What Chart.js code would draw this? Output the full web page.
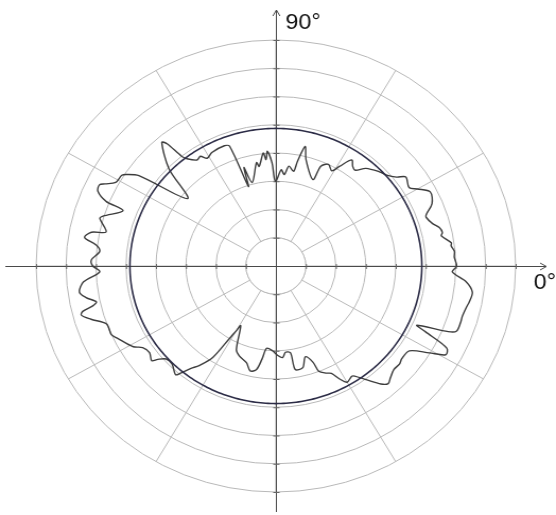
<!DOCTYPE html>
<html>
<head>
<meta charset="utf-8">
<script src="https://cdn.jsdelivr.net/npm/chart.js@4.4.0/dist/chart.umd.min.js"></script>
<style>
  html, body { margin: 0; padding: 0; background: #fff; overflow: hidden; }
  /* the source picture is stretched a little wider than tall */
  #polarChart { position: absolute; left: 0; top: 0; transform: scaleX(1.061); transform-origin: 0 0; }
</style>
</head>
<body>
<canvas id="polarChart" width="524" height="515"></canvas>
<script>
// measured curve: angle in degrees (0 = right, counter-clockwise), radius in ring units
const curveAngles = [
  0, 3, 5, 7, 8, 11, 12, 14, 16, 19, 20, 23, 27, 30, 32, 36, 38, 41, 44, 49,
  52, 54, 56, 59, 61, 64, 67, 68, 75, 77, 79, 80, 83, 85, 87, 90, 91, 92, 94, 95,
  96, 99, 100, 105, 107, 108, 110, 112, 118, 121, 123, 125, 128, 129, 130, 131, 136, 141, 145, 147,
  148, 151, 153, 154, 156, 158, 159, 163, 164, 168, 169, 171, 173, 175, 178, 180, 182, 185, 188, 190,
  192, 193, 194, 195, 197, 200, 204, 206, 211, 213, 216, 219, 220, 222, 225, 229, 230, 232, 234, 237,
  239, 240, 241, 246, 249, 254, 257, 260, 262, 264, 268, 271, 274, 276, 279, 280, 284, 287, 290, 291,
  294, 296, 298, 300, 303, 304, 307, 310, 312, 314, 317, 320, 322, 326, 329, 331, 333, 335, 336, 338,
  339, 342, 344, 347, 349, 352, 355, 358
];
const curveRadii = [
  6.03, 5.96, 5.98, 5.89, 5.91, 5.62, 5.68, 5.62, 5.44, 5.30, 5.34, 5.66, 5.78, 5.45, 5.24, 5.36, 5.11, 4.90, 4.80, 4.58,
  4.30, 4.36, 4.53, 4.11, 3.85, 4.00, 3.84, 3.30, 3.89, 4.34, 3.77, 3.40, 3.56, 3.25, 3.41, 3.00, 3.12, 3.65, 4.07, 3.78,
  4.02, 3.57, 3.72, 3.06, 3.65, 2.96, 4.51, 4.59, 4.55, 4.45, 4.63, 4.58, 4.82, 5.00, 5.65, 5.80, 4.96, 3.79, 5.58, 5.95,
  6.06, 6.11, 6.40, 6.55, 6.50, 6.11, 5.46, 6.03, 6.11, 5.79, 6.27, 6.46, 6.03, 5.90, 6.16, 6.11, 5.88, 6.44, 6.62, 6.43,
  6.12, 6.27, 6.64, 6.72, 6.45, 6.01, 6.00, 5.86, 5.55, 5.30, 5.21, 5.33, 5.14, 4.92, 4.90, 5.10, 4.95, 4.60, 4.36, 3.85,
  2.95, 2.66, 2.42, 3.24, 3.41, 3.56, 3.81, 3.72, 3.33, 2.93, 3.01, 3.16, 3.25, 3.07, 3.11, 3.72, 3.71, 3.36, 3.63, 3.99,
  4.15, 4.23, 4.53, 4.75, 4.65, 4.70, 5.05, 5.45, 5.60, 5.50, 5.38, 5.39, 5.33, 5.37, 5.97, 6.48, 6.40, 5.50, 5.15, 6.20,
  6.45, 6.48, 6.47, 6.52, 6.58, 6.62, 6.37, 5.89
];
const referenceRadius = 4.87;
const ringMax = 8;
const spokeStep = 30;
const axisLabels = ["0°", "90°"];

// radar labels run clockwise from the right, one per degree
const labels = [];
const curveData = [];
const referenceData = [];
for (let i = 0; i < 360; i++) {
  labels.push(i);
  curveData.push(null);
  referenceData.push(referenceRadius);
}
curveAngles.forEach((a, k) => {
  curveData[(360 - a) % 360] = curveRadii[k];
});

const axesPlugin = {
  id: "axes",
  beforeDatasetsDraw(chart) {
    const s = chart.scales.r;
    const ctx = chart.ctx;
    const cx = s.xCenter + 0.5, cy = s.yCenter + 0.5;
    const ring = s.getDistanceFromCenterForValue(1);
    ctx.save();
    // spokes start at the first ring
    ctx.fillStyle = "#fff";
    ctx.beginPath();
    ctx.arc(s.xCenter, s.yCenter, ring, 0, Math.PI * 2);
    ctx.fill();
    ctx.strokeStyle = "#b8b8b8";
    ctx.lineWidth = 1;
    ctx.beginPath();
    ctx.arc(s.xCenter, s.yCenter, ring, 0, Math.PI * 2);
    ctx.stroke();

    ctx.strokeStyle = "#4a4a4a";
    ctx.lineWidth = 1;
    ctx.beginPath();
    ctx.moveTo(5, cy);
    ctx.lineTo(515, cy);
    ctx.moveTo(cx, 10);
    ctx.lineTo(cx, 512);
    // arrow heads
    ctx.moveTo(509, cy - 3.5);
    ctx.lineTo(515, cy);
    ctx.lineTo(509, cy + 3.5);
    ctx.moveTo(cx - 3.3, 16);
    ctx.lineTo(cx, 10);
    ctx.lineTo(cx + 3.3, 16);
    ctx.stroke();

    // short dark marks where rings cross the axes
    ctx.strokeStyle = "#666";
    ctx.beginPath();
    for (let v = 1; v <= ringMax; v++) {
      const d = s.getDistanceFromCenterForValue(v);
      ctx.moveTo(cx + d, cy - 2.5); ctx.lineTo(cx + d, cy + 2.5);
      ctx.moveTo(cx - d, cy - 2.5); ctx.lineTo(cx - d, cy + 2.5);
      ctx.moveTo(cx - 3, cy - d); ctx.lineTo(cx + 3, cy - d);
      ctx.moveTo(cx - 3, cy + d); ctx.lineTo(cx + 3, cy + d);
    }
    ctx.stroke();

    ctx.fillStyle = "#111";
    ctx.font = "22px 'Liberation Sans', Arial, sans-serif";
    ctx.textBaseline = "middle";
    ctx.textAlign = "left";
    ctx.fillText(axisLabels[1], 269, 23);
    ctx.fillText(axisLabels[0], 503, 283);
    ctx.restore();
  }
};

const config = {
  type: "radar",
  data: {
    labels: labels,
    datasets: [
      {
        label: "reference",
        data: referenceData,
        borderColor: "#2c2c46",
        borderWidth: 1.6,
        backgroundColor: "transparent",
        fill: false,
        pointRadius: 0,
        pointHitRadius: 0,
        tension: 0,
      },
      {
        label: "measured",
        data: curveData,
        borderColor: "#3c3c3c",
        borderWidth: 1.4,
        backgroundColor: "transparent",
        fill: false,
        spanGaps: true,
        pointRadius: 0,
        pointHitRadius: 0,
        tension: 0.3,
      },
    ],
  },
  options: {
    responsive: false,
    animation: false,
    layout: {
      padding: { left: 34, right: 38, top: 40, bottom: 23 },
    },
    plugins: {
      legend: { display: false },
      tooltip: { enabled: false },
    },
    scales: {
      r: {
        min: 0,
        max: ringMax,
        startAngle: 90,
        ticks: { display: false, stepSize: 1 },
        pointLabels: { display: false },
        grid: { circular: true, color: "#b8b8b8", lineWidth: 1 },
        angleLines: {
          display: true,
          color: "#b8b8b8",
          lineWidth: (ctx) => (ctx.index % spokeStep === 0 ? 1 : 0),
        },
      },
    },
  },
  plugins: [axesPlugin],
};

new Chart(document.getElementById("polarChart"), config);
</script>
</body>
</html>
